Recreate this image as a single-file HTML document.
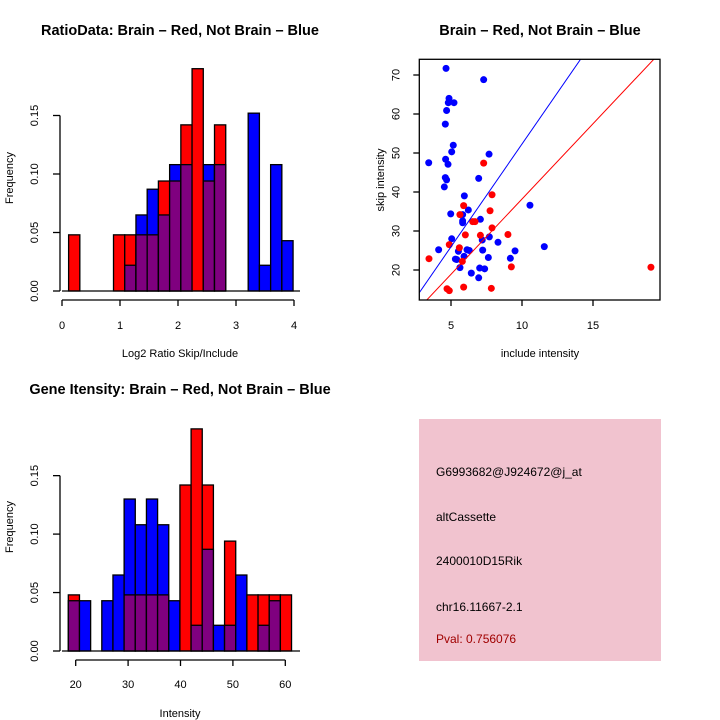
<!DOCTYPE html>
<html><head><meta charset="utf-8">
<style>
html,body{margin:0;padding:0;background:#fff;}
svg{display:block;font-family:"Liberation Sans",Arial,sans-serif;}
</style></head>
<body>
<svg id="c" width="720" height="720" viewBox="0 0 720 720"></svg>
<script>
// ---- Ratio histogram data (bin heights, frequency) ----
const ratioRed  = [0.048,0,0,0,0.048,0.048,0.048,0.048,0.094,0.094,0.142,0.190,0.094,0.142,0,0,0,0,0,0];
const ratioBlue = [0,0,0,0,0,0.022,0.065,0.087,0.065,0.108,0.108,0,0.108,0.108,0,0,0.152,0.022,0.108,0.043];
const ratioBinStart = 0.114, ratioBinWidth = 0.1935;
const ratioXTicks = [0,1,2,3,4];
const freqTicks = [0,0.05,0.10,0.15];
const freqTickLabels = ["0.00","0.05","0.10","0.15"];
// ---- Intensity histogram data ----
const intRed  = [0.048,0,0,0,0,0.048,0.048,0.048,0.048,0,0.142,0.190,0.142,0,0.094,0,0.048,0.048,0.048,0.048];
const intBlue = [0.043,0.043,0,0.043,0.065,0.130,0.108,0.130,0.108,0.043,0,0.022,0.087,0.022,0.022,0.065,0,0.022,0.043,0];
const intBinStart = 18.59, intBinWidth = 2.13;
const intXTicks = [20,30,40,50,60];
// ---- Scatter data ----
const blueX = [4.65,7.3,4.86,4.81,5.21,4.69,4.6,5.16,5.05,7.68,3.43,4.62,4.79,4.6,4.69,6.95,4.53,5.94,10.56,4.98,6.22,5.82,5.82,5.82,7.07,5.05,7.2,7.7,8.31,11.57,4.13,5.52,6.13,6.29,7.23,9.51,5.31,5.4,5.92,7.63,9.18,5.63,7.02,7.37,6.43,6.95];
const blueY = [71.7,68.8,64.0,62.9,62.9,60.9,57.4,52.0,50.3,49.7,47.5,48.4,47.1,43.7,43.1,43.5,41.3,39.0,36.6,34.4,35.4,34.2,32.6,32.1,33.0,28.0,27.7,28.5,27.1,26.0,25.2,24.8,25.2,25.0,25.1,24.9,22.8,22.7,23.5,23.2,23.0,20.6,20.5,20.3,19.2,18.0];
const redX = [7.3,7.89,5.89,5.63,7.75,6.53,6.69,6.01,7.07,7.89,9.01,3.45,4.88,5.59,5.8,9.25,19.08,4.72,4.88,5.89,7.84];
const redY = [47.4,39.3,36.5,34.2,35.2,32.4,32.4,29.0,28.9,30.8,29.1,22.9,26.5,25.7,22.2,20.8,20.7,15.2,14.7,15.6,15.3];
const blueLine = [-0.4,5.27]; // intercept, slope
const redLine = [-0.4,3.86];
const scXTicks = [5,10,15];
const scYTicks = [20,30,40,50,60,70];

const NS="http://www.w3.org/2000/svg";
const svg=document.getElementById('c');
function mk(tag,attrs,parent){const e=document.createElementNS(NS,tag);for(const k in attrs)e.setAttribute(k,attrs[k]);(parent||svg).appendChild(e);return e;}
function txt(s,attrs,parent){const e=mk('text',attrs,parent);e.textContent=s;return e;}

const PURPLE="#7f007f";
function hist(g,red,blue,binStart,binW,sx,sy){
  for(let i=0;i<red.length;i++){
    const x0=sx(binStart+i*binW), x1=sx(binStart+(i+1)*binW);
    const r=red[i], b=blue[i];
    const hi=Math.max(r,b), lo=Math.min(r,b);
    if(hi>0){
      const e=mk('rect',{x:x0,y:sy(hi),width:x1-x0,height:sy(0)-sy(hi),fill:r>=b?'#ff0000':'#0000ff',stroke:'#000','stroke-width':1.3},g);
      
      
    }
    if(lo>0){
      const e=mk('rect',{x:x0,y:sy(lo),width:x1-x0,height:sy(0)-sy(lo),fill:PURPLE,stroke:'#000','stroke-width':1.3},g);
      
      
    }
  }
}
function yAxisFreq(g,sy,axX){
  mk('line',{x1:axX,y1:sy(0),x2:axX,y2:sy(0.15),stroke:'#000','stroke-width':1.3},g);
  freqTicks.forEach((v,i)=>{
    mk('line',{x1:axX-7,y1:sy(v),x2:axX,y2:sy(v),stroke:'#000','stroke-width':1.3},g);
    const t=txt(freqTickLabels[i],{x:0,y:0,'font-size':11,'text-anchor':'middle',transform:`translate(${axX-22},${sy(v)}) rotate(-90)`},g);
    
    
  });
}

// ---- Panel 1: ratio histogram ----
(function(){
  const g=mk('g',{});
  const sx=v=>62+v*58, sy=v=>291-v*1170;
  hist(g,ratioRed,ratioBlue,ratioBinStart,ratioBinWidth,sx,sy);
  mk('line',{x1:62,y1:291,x2:300,y2:291,stroke:'#000','stroke-width':1.3},g);
  yAxisFreq(g,sy,60);
  mk('line',{x1:sx(0),y1:300,x2:sx(4),y2:300,stroke:'#000','stroke-width':1.3},g);
  ratioXTicks.forEach(v=>{
    mk('line',{x1:sx(v),y1:300,x2:sx(v),y2:306,stroke:'#000','stroke-width':1.3},g);
    const t=txt(String(v),{x:sx(v),y:329,'font-size':11,'text-anchor':'middle'},g);
    
    
  });
  txt('RatioData: Brain – Red, Not Brain – Blue',{x:180,y:35,'font-size':14.5,'font-weight':'bold','text-anchor':'middle',},g);
  txt('Log2 Ratio Skip/Include',{x:180,y:357,'font-size':11,'text-anchor':'middle',},g);
  txt('Frequency',{x:0,y:0,'font-size':11,'text-anchor':'middle',transform:'translate(13,178) rotate(-90)',},g);
})();

// ---- Panel 3: intensity histogram ----
(function(){
  const g=mk('g',{});
  const sx=v=>75.7+(v-20)*5.24, sy=v=>651-v*1169;
  hist(g,intRed,intBlue,intBinStart,intBinWidth,sx,sy);
  mk('line',{x1:62,y1:651,x2:300,y2:651,stroke:'#000','stroke-width':1.3},g);
  yAxisFreq(g,sy,60);
  mk('line',{x1:sx(20),y1:660,x2:sx(60),y2:660,stroke:'#000','stroke-width':1.3},g);
  intXTicks.forEach(v=>{
    mk('line',{x1:sx(v),y1:660,x2:sx(v),y2:666,stroke:'#000','stroke-width':1.3},g);
    const t=txt(String(v),{x:sx(v),y:688,'font-size':11,'text-anchor':'middle'},g);
    
    
  });
  txt('Gene Itensity: Brain – Red, Not Brain – Blue',{x:180,y:394,'font-size':14.5,'font-weight':'bold','text-anchor':'middle',},g);
  txt('Intensity',{x:180,y:717,'font-size':11,'text-anchor':'middle',},g);
  txt('Frequency',{x:0,y:0,'font-size':11,'text-anchor':'middle',transform:'translate(13,527) rotate(-90)',},g);
})();

// ---- Panel 2: scatter ----
(function(){
  const g=mk('g',{});
  const L=419.3,R=660,T=59.3,B=300;
  const sx=v=>380+v*14.2, sy=v=>75+(70-v)*3.9;
  const clip=mk('clipPath',{id:'clipS'},g);
  mk('rect',{x:L,y:T,width:R-L,height:B-T},clip);
  const pg=mk('g',{'clip-path':'url(#clipS)'},g);
  function line(coef,col,name){
    const xa=0,xb=25;
    const e=mk('line',{x1:sx(xa),y1:sy(coef[0]+coef[1]*xa),x2:sx(xb),y2:sy(coef[0]+coef[1]*xb),stroke:col,'stroke-width':1},pg);
    
    
  }
  for(let i=0;i<blueX.length;i++){
    const c=mk('circle',{cx:sx(blueX[i]),cy:sy(blueY[i]),r:3.5,fill:'#0000ff'},pg);
    
    
  }
  for(let i=0;i<redX.length;i++){
    const c=mk('circle',{cx:sx(redX[i]),cy:sy(redY[i]),r:3.5,fill:'#ff0000'},pg);
    
    
  }
  line(blueLine,'#0000ff','not-brain-fit-line');
  line(redLine,'#ff0000','brain-fit-line');
  mk('rect',{x:L,y:T,width:R-L,height:B-T,fill:'none',stroke:'#000','stroke-width':1.3},g);
  scXTicks.forEach(v=>{
    mk('line',{x1:sx(v),y1:B,x2:sx(v),y2:B+6,stroke:'#000','stroke-width':1.3},g);
    const t=txt(String(v),{x:sx(v),y:329,'font-size':11,'text-anchor':'middle'},g);
    
    
  });
  scYTicks.forEach(v=>{
    mk('line',{x1:L-6,y1:sy(v),x2:L,y2:sy(v),stroke:'#000','stroke-width':1.3},g);
    const t=txt(String(v),{x:0,y:0,'font-size':11,'text-anchor':'middle',transform:`translate(${L-20},${sy(v)}) rotate(-90)`},g);
    
    
  });
  txt('Brain – Red, Not Brain – Blue',{x:540,y:35,'font-size':14.5,'font-weight':'bold','text-anchor':'middle',},g);
  txt('include intensity',{x:540,y:357,'font-size':11,'text-anchor':'middle',},g);
  txt('skip intensity',{x:0,y:0,'font-size':11,'text-anchor':'middle',transform:'translate(384,180) rotate(-90)',},g);
})();

// ---- Panel 4: info box ----
(function(){
  const g=mk('g',{});
  mk('rect',{x:419,y:419,width:242,height:242,fill:'#f1c3cf'},g);
  const lines=[['G6993682@J924672@j_at',476,'#000','probe-id'],['altCassette',521,'#000','event-type'],['2400010D15Rik',565,'#000','gene-name'],['chr16.11667-2.1',611,'#000','location'],['Pval: 0.756076',643,'#a00000','p-value']];
  lines.forEach(l=>{
    txt(l[0],{x:436,y:l[1],'font-size':12,fill:l[2],},g);
  });
})();
</script>
</body></html>
